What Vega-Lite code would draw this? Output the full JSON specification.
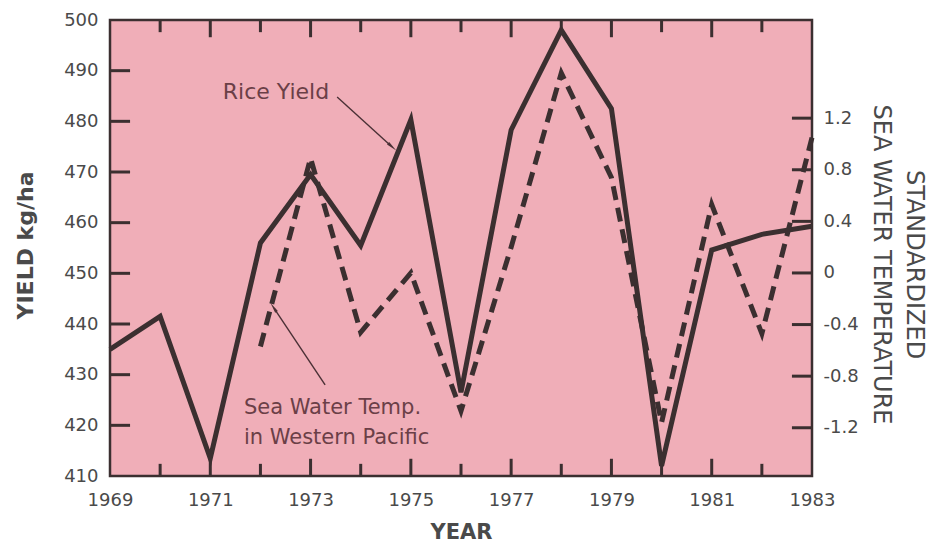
{
  "$schema": "https://vega.github.io/schema/vega-lite/v6.json",
  "width": 702,
  "height": 456,
  "autosize": {"type": "none"},
  "padding": {"left": 110, "top": 20, "right": 115, "bottom": 67},
  "background": "white",
  "config": {
    "font": "DejaVu Sans",
    "view": {"fill": "#f0aeb8", "stroke": "#3b2f30", "strokeWidth": 2.5},
    "axis": {"grid": false, "domain": false, "ticks": false, "labelFontSize": 18, "labelColor": "#4a4a4a", "labelFlush": false, "labelOverlap": false, "labelBound": false}
  },
  "datasets": {
    "series": [
      {"Year": 1969, "Yield": 435.0, "Temp": null},
      {"Year": 1970, "Yield": 441.5, "Temp": null},
      {"Year": 1971, "Yield": 413.5, "Temp": null},
      {"Year": 1972, "Yield": 456.0, "Temp": -0.57},
      {"Year": 1973, "Yield": 469.5, "Temp": 0.89},
      {"Year": 1974, "Yield": 455.5, "Temp": -0.46},
      {"Year": 1975, "Yield": 480.3, "Temp": 0.0},
      {"Year": 1976, "Yield": 426.5, "Temp": -1.07},
      {"Year": 1977, "Yield": 478.3, "Temp": 0.2},
      {"Year": 1978, "Yield": 498.0, "Temp": 1.55},
      {"Year": 1979, "Yield": 482.5, "Temp": 0.74},
      {"Year": 1980, "Yield": 412.0, "Temp": -1.16},
      {"Year": 1981, "Yield": 454.6, "Temp": 0.53},
      {"Year": 1982, "Yield": 457.7, "Temp": -0.47},
      {"Year": 1983, "Yield": 459.3, "Temp": 1.05}
    ],
    "yieldTicks": [{"v": 420}, {"v": 430}, {"v": 440}, {"v": 450}, {"v": 460}, {"v": 470}, {"v": 480}, {"v": 490}],
    "tempTicks": [{"v": -1.2}, {"v": -0.8}, {"v": -0.4}, {"v": 0}, {"v": 0.4}, {"v": 0.8}, {"v": 1.2}],
    "majorYears": [{"v": 1971}, {"v": 1973}, {"v": 1975}, {"v": 1977}, {"v": 1979}, {"v": 1981}],
    "minorYears": [{"v": 1970}, {"v": 1972}, {"v": 1974}, {"v": 1976}, {"v": 1978}, {"v": 1980}, {"v": 1982}]
  },
  "layer": [
    {
      "data": {"name": "yieldTicks"},
      "mark": {"type": "rule", "color": "#3b2f30", "strokeWidth": 3},
      "encoding": {
        "x": {"datum": 1969, "type": "quantitative", "scale": {"domain": [1969, 1983], "nice": false, "zero": false}, "axis": null},
        "x2": {"datum": 1969.4},
        "y": {"field": "v", "type": "quantitative", "scale": {"domain": [410, 500], "nice": false, "zero": false}, "axis": null}
      }
    },
    {
      "data": {"name": "tempTicks"},
      "mark": {"type": "rule", "color": "#3b2f30", "strokeWidth": 3},
      "encoding": {
        "x": {"datum": 1982.6, "type": "quantitative", "scale": {"domain": [1969, 1983], "nice": false, "zero": false}, "axis": null},
        "x2": {"datum": 1983},
        "y": {"field": "v", "type": "quantitative", "scale": {"domain": [-1.574, 1.961], "nice": false, "zero": false}, "axis": null}
      }
    },
    {
      "data": {"name": "majorYears"},
      "mark": {"type": "rule", "color": "#3b2f30", "strokeWidth": 3},
      "encoding": {
        "x": {"field": "v", "type": "quantitative", "scale": {"domain": [1969, 1983], "nice": false, "zero": false}, "axis": null},
        "y": {"datum": 410, "type": "quantitative", "scale": {"domain": [410, 500], "nice": false, "zero": false}, "axis": null},
        "y2": {"datum": 413.4}
      }
    },
    {
      "data": {"name": "majorYears"},
      "mark": {"type": "rule", "color": "#3b2f30", "strokeWidth": 3},
      "encoding": {
        "x": {"field": "v", "type": "quantitative", "scale": {"domain": [1969, 1983], "nice": false, "zero": false}, "axis": null},
        "y": {"datum": 500, "type": "quantitative", "scale": {"domain": [410, 500], "nice": false, "zero": false}, "axis": null},
        "y2": {"datum": 496.6}
      }
    },
    {
      "data": {"name": "minorYears"},
      "mark": {"type": "rule", "color": "#3b2f30", "strokeWidth": 3},
      "encoding": {
        "x": {"field": "v", "type": "quantitative", "scale": {"domain": [1969, 1983], "nice": false, "zero": false}, "axis": null},
        "y": {"datum": 410, "type": "quantitative", "scale": {"domain": [410, 500], "nice": false, "zero": false}, "axis": null},
        "y2": {"datum": 412.4}
      }
    },
    {
      "data": {"name": "minorYears"},
      "mark": {"type": "rule", "color": "#3b2f30", "strokeWidth": 3},
      "encoding": {
        "x": {"field": "v", "type": "quantitative", "scale": {"domain": [1969, 1983], "nice": false, "zero": false}, "axis": null},
        "y": {"datum": 500, "type": "quantitative", "scale": {"domain": [410, 500], "nice": false, "zero": false}, "axis": null},
        "y2": {"datum": 497.6}
      }
    },
    {
      "data": {"name": "series"},
      "mark": {"type": "line", "color": "#3b2f30", "strokeWidth": 5, "strokeJoin": "miter"},
      "encoding": {
        "x": {
          "field": "Year", "type": "quantitative",
          "scale": {"domain": [1969, 1983], "nice": false, "zero": false},
          "axis": {
            "orient": "bottom",
            "values": [1969, 1971, 1973, 1975, 1977, 1979, 1981, 1983],
            "format": "d", "labelPadding": 15,
            "title": "YEAR", "titleFontSize": 21, "titleFontWeight": "bold", "titleColor": "#4a4a4a",
            "titleBaseline": "alphabetic", "titleY": 62
          }
        },
        "y": {
          "field": "Yield", "type": "quantitative",
          "scale": {"domain": [410, 500], "nice": false, "zero": false},
          "axis": {
            "orient": "left",
            "values": [410, 420, 430, 440, 450, 460, 470, 480, 490, 500],
            "labelPadding": 12,
            "title": "YIELD kg/ha", "titleFontSize": 22, "titleFontWeight": "bold", "titleColor": "#4a4a4a",
            "titleAngle": -90, "titleBaseline": "alphabetic", "titleAlign": "center",
            "titleX": -78, "titleY": 225
          }
        }
      }
    },
    {
      "data": {"name": "series"},
      "mark": {"type": "line", "color": "#3b2f30", "strokeWidth": 5, "strokeDash": [14, 8], "strokeJoin": "miter"},
      "encoding": {
        "x": {"field": "Year", "type": "quantitative", "scale": {"domain": [1969, 1983], "nice": false, "zero": false}, "axis": null},
        "y": {
          "field": "Temp", "type": "quantitative",
          "scale": {"domain": [-1.574, 1.961], "nice": false, "zero": false},
          "axis": {
            "orient": "right",
            "values": [-1.2, -0.8, -0.4, 0, 0.4, 0.8, 1.2],
            "labelExpr": "datum.value == 0 ? '0' : (datum.value < 0 ? '-' + format(-datum.value, '.1f') : format(datum.value, '.1f'))",
            "labelPadding": 11,
            "title": ["STANDARDIZED", "SEA WATER TEMPERATURE"],
            "titleFontSize": 24, "titleFontWeight": "normal", "titleColor": "#4a4a4a",
            "titleAngle": 90, "titleBaseline": "middle", "titleAlign": "center",
            "titleLineHeight": 33, "titleX": 101, "titleY": 244
          }
        }
      }
    },
    {
      "data": {"values": [{"x": 1972.31, "y": 485.8, "label": "Rice Yield"}]},
      "mark": {"type": "text", "align": "center", "baseline": "middle", "fontSize": 22, "color": "#6b3f47"},
      "encoding": {
        "x": {"field": "x", "type": "quantitative", "scale": {"domain": [1969, 1983], "nice": false, "zero": false}, "axis": null},
        "y": {"field": "y", "type": "quantitative", "scale": {"domain": [410, 500], "nice": false, "zero": false}, "axis": null},
        "text": {"field": "label"}
      }
    },
    {
      "data": {"values": [
        {"x": 1971.67, "y": 423.4, "label": "Sea Water Temp."},
        {"x": 1971.67, "y": 417.5, "label": "in Western Pacific"}
      ]},
      "mark": {"type": "text", "align": "left", "baseline": "middle", "fontSize": 21, "color": "#6b3f47"},
      "encoding": {
        "x": {"field": "x", "type": "quantitative", "scale": {"domain": [1969, 1983], "nice": false, "zero": false}, "axis": null},
        "y": {"field": "y", "type": "quantitative", "scale": {"domain": [410, 500], "nice": false, "zero": false}, "axis": null},
        "text": {"field": "label"}
      }
    },
    {
      "data": {"values": [
        {"x": 1973.53, "y": 484.8, "x2": 1974.6, "y2": 475.2},
        {"x": 1973.29, "y": 428.0, "x2": 1972.28, "y2": 443.0}
      ]},
      "mark": {"type": "rule", "color": "#4a3035", "strokeWidth": 1.4},
      "encoding": {
        "x": {"field": "x", "type": "quantitative", "scale": {"domain": [1969, 1983], "nice": false, "zero": false}, "axis": null},
        "y": {"field": "y", "type": "quantitative", "scale": {"domain": [410, 500], "nice": false, "zero": false}, "axis": null},
        "x2": {"field": "x2"},
        "y2": {"field": "y2"}
      }
    },
    {
      "data": {"values": [{"x": 1974.6, "y": 475.2}]},
      "mark": {"type": "point", "shape": "wedge", "filled": true, "size": 160, "angle": 132, "color": "#4a3035", "opacity": 1},
      "encoding": {
        "x": {"field": "x", "type": "quantitative", "scale": {"domain": [1969, 1983], "nice": false, "zero": false}, "axis": null},
        "y": {"field": "y", "type": "quantitative", "scale": {"domain": [410, 500], "nice": false, "zero": false}, "axis": null}
      }
    },
    {
      "data": {"values": [{"x": 1972.28, "y": 443.0}]},
      "mark": {"type": "point", "shape": "wedge", "filled": true, "size": 160, "angle": 326, "color": "#4a3035", "opacity": 1},
      "encoding": {
        "x": {"field": "x", "type": "quantitative", "scale": {"domain": [1969, 1983], "nice": false, "zero": false}, "axis": null},
        "y": {"field": "y", "type": "quantitative", "scale": {"domain": [410, 500], "nice": false, "zero": false}, "axis": null}
      }
    }
  ],
  "resolve": {
    "scale": {"y": "independent"},
    "axis": {"x": "independent", "y": "independent"}
  }
}
